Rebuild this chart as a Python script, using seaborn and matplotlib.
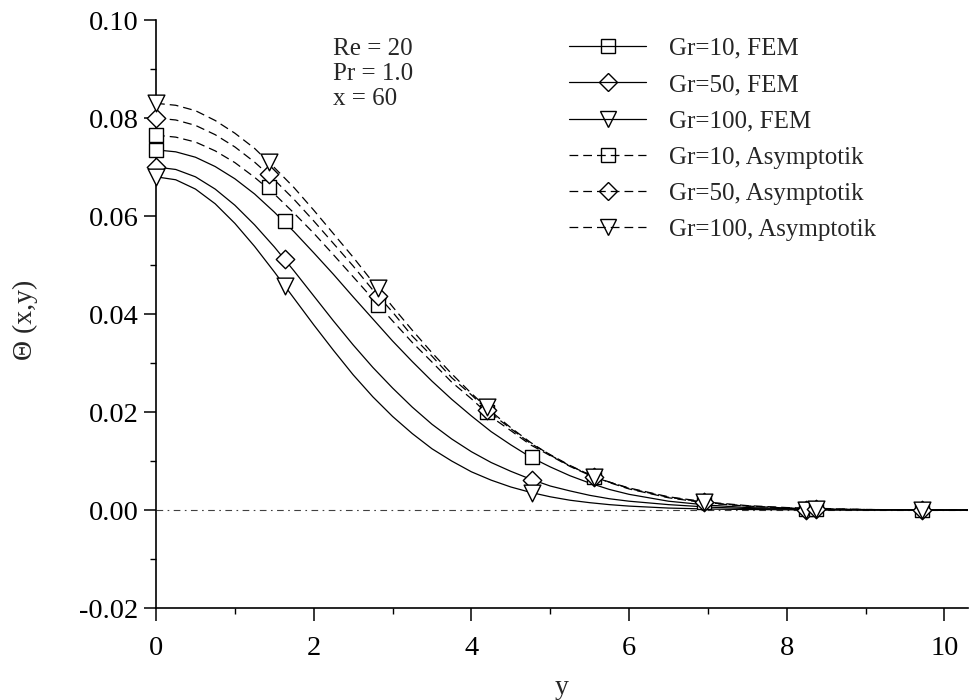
import matplotlib
matplotlib.use("Agg")
import matplotlib.pyplot as plt
from matplotlib.lines import Line2D
import seaborn as sns
import numpy as np

# ---- data ----
y_grid = [0.0, 0.25, 0.5, 0.75, 1.0, 1.25, 1.5, 1.75, 2.0, 2.25, 2.5, 2.75,
          3.0, 3.25, 3.5, 3.75, 4.0, 4.25, 4.5, 4.75, 5.0, 5.25, 5.5, 5.75,
          6.0, 6.5, 7.0, 7.5, 8.0, 8.5, 9.0, 9.5, 10.0, 10.3]

fem_gr10 = [0.0735, 0.0731, 0.0720, 0.0701, 0.0676, 0.0645, 0.0608, 0.0568,
            0.0525, 0.0481, 0.0435, 0.0390, 0.0345, 0.0303, 0.0263, 0.0226,
            0.0192, 0.0160, 0.0133, 0.0108, 0.0088, 0.0070, 0.0055, 0.0042,
            0.0032, 0.0018, 0.0010, 0.0005, 0.0003, 0.0001, 0.00005, 0.00002,
            0.0, 0.0]
fem_gr50 = [0.0700, 0.0695, 0.0680, 0.0655, 0.0622, 0.0582, 0.0537, 0.0488,
            0.0437, 0.0386, 0.0337, 0.0291, 0.0249, 0.0210, 0.0175, 0.0145,
            0.0119, 0.0097, 0.0079, 0.0063, 0.0049, 0.0039, 0.0030, 0.0023,
            0.0018, 0.0011, 0.0006, 0.0003, 0.0002, 0.0001, 0.00005, 0.00002,
            0.0, 0.0]
fem_gr100 = [0.0680, 0.0674, 0.0655, 0.0625, 0.0585, 0.0538, 0.0486, 0.0432,
             0.0378, 0.0326, 0.0276, 0.0231, 0.0191, 0.0156, 0.0125, 0.0100,
             0.0078, 0.0061, 0.0047, 0.0036, 0.0027, 0.0020, 0.0015, 0.0011,
             0.0008, 0.0004, 0.0002, 0.0001, 0.00005, 0.0, 0.0, 0.0,
             0.0, 0.0]
asy_gr10 = [0.0765, 0.0761, 0.0751, 0.0733, 0.0709, 0.0679, 0.0645, 0.0606,
            0.0565, 0.0521, 0.0476, 0.0431, 0.0386, 0.0342, 0.0302, 0.0261,
            0.0227, 0.0190, 0.0162, 0.0133, 0.0111, 0.0089, 0.0071, 0.0057,
            0.0045, 0.0027, 0.0016, 0.0009, 0.0005, 0.0003, 0.0001, 0.00005,
            0.0, 0.0]
asy_gr50 = [0.0800, 0.0796, 0.0785, 0.0766, 0.0741, 0.0710, 0.0674, 0.0634,
            0.0590, 0.0544, 0.0498, 0.0449, 0.0404, 0.0355, 0.0314, 0.0270,
            0.0235, 0.0197, 0.0166, 0.0136, 0.0113, 0.0091, 0.0072, 0.0057,
            0.0044, 0.0026, 0.0015, 0.0008, 0.0004, 0.0002, 0.0001, 0.00004,
            0.0, 0.0]
asy_gr100 = [0.0830, 0.0826, 0.0815, 0.0795, 0.0769, 0.0738, 0.0699, 0.0658,
             0.0612, 0.0564, 0.0516, 0.0465, 0.0415, 0.0367, 0.0321, 0.0278,
             0.0238, 0.0201, 0.0168, 0.0138, 0.0112, 0.0090, 0.0072, 0.0056,
             0.0043, 0.0025, 0.0014, 0.0008, 0.0004, 0.0002, 0.0001, 0.00004,
             0.0, 0.0]

# marker positions
fem_mark_y = [0.0, 1.63, 4.77, 8.24]
fem_mark_gr10 = [0.0735, 0.0589, 0.0108, 0.0002]
fem_mark_gr50 = [0.0700, 0.0512, 0.0061, 0.0001]
fem_mark_gr100 = [0.0680, 0.0457, 0.0035, 0.0000]

asy_mark_y = [0.0, 1.43, 2.81, 4.20, 5.56, 6.95, 8.37, 9.72]
asy_mark_gr10 = [0.0765, 0.0659, 0.0419, 0.0200, 0.0067, 0.0017, 0.0003, 0.0001]
asy_mark_gr50 = [0.0800, 0.0685, 0.0437, 0.0205, 0.0068, 0.0017, 0.0003, 0.0001]
asy_mark_gr100 = [0.0830, 0.0711, 0.0453, 0.0210, 0.0068, 0.0017, 0.0003, 0.0001]

labels = ["Gr=10, FEM", "Gr=50, FEM", "Gr=100, FEM",
          "Gr=10, Asymptotik", "Gr=50, Asymptotik", "Gr=100, Asymptotik"]

x_ticks = [0, 2, 4, 6, 8, 10]
y_ticks = [-0.02, 0.00, 0.02, 0.04, 0.06, 0.08, 0.10]

# ---- style ----
sns.set_theme(style="ticks")
plt.rcParams['font.family'] = ['Liberation Serif', 'DejaVu Serif']

fig = plt.figure(figsize=(9.71, 7.0), dpi=100)
ax = fig.add_axes([0.1607, 0.1314, 0.8363, 0.8400])

solid = '-'
dashed = (0, (7, 4))
lw = 0.9

curves = [
    (fem_gr10, solid), (fem_gr50, solid), (fem_gr100, solid),
    (asy_gr10, dashed), (asy_gr50, dashed), (asy_gr100, dashed),
]
for vals, ls in curves:
    sns.lineplot(x=y_grid, y=vals, ax=ax, color='black', linewidth=lw,
                 linestyle=ls, errorbar=None, sort=False, legend=False)

# zero reference line
ax.axhline(0.0, color='0.25', linewidth=0.8, linestyle=(0, (6, 4, 1.5, 4)), zorder=1)

mk = {'s': 110, 'D': 88, 'v': 145}
marks = [
    (fem_mark_y, fem_mark_gr10, 's'), (fem_mark_y, fem_mark_gr50, 'D'),
    (fem_mark_y, fem_mark_gr100, 'v'),
    (asy_mark_y, asy_mark_gr10, 's'), (asy_mark_y, asy_mark_gr50, 'D'),
    (asy_mark_y, asy_mark_gr100, 'v'),
]
for xs, ys, m in marks:
    sns.scatterplot(x=xs, y=ys, ax=ax, marker=m, s=mk[m], facecolors='white',
                    edgecolors='black', linewidth=1.0, zorder=3, legend=False,
                    clip_on=False)

ax.set_xlim(0, 10.3)
ax.set_ylim(-0.02, 0.10)
ax.set_xticks(x_ticks)
ax.set_xticklabels([str(t) for t in x_ticks])
ax.set_yticks(y_ticks)
ax.set_yticklabels([f"{t:.2f}" for t in y_ticks])
ax.set_xticks(np.arange(1, 10.3, 2), minor=True)
ax.set_yticks(np.arange(-0.01, 0.10, 0.02), minor=True)

for s in ['top', 'right']:
    ax.spines[s].set_visible(False)
for s in ['left', 'bottom']:
    ax.spines[s].set_linewidth(1.2)
    ax.spines[s].set_color('black')

ax.tick_params(axis='both', which='major', direction='out', length=9, width=1.1,
               labelsize=20.5, colors='black')
ax.tick_params(axis='x', which='major', pad=11)
ax.tick_params(axis='y', which='major', pad=3.5)
ax.tick_params(axis='both', which='minor', direction='out', length=4.5, width=1.0,
               colors='black')

ax.set_xlabel("y", fontsize=20, labelpad=10)
ax.set_ylabel("Θ (x,y)", fontsize=20)
ax.yaxis.set_label_coords(-0.145, 0.49)

ax.text(0.218, 0.970, "Re = 20\nPr = 1.0\nx = 60", transform=ax.transAxes,
        fontsize=18, va='top', ha='left', linespacing=1.18)

handles = []
for (vals, ls), (_, _, m) in zip(curves, marks):
    handles.append(Line2D([0], [0], color='black', linewidth=lw, linestyle=ls,
                          marker=m, markersize=np.sqrt(mk[m]),
                          markerfacecolor='none', markeredgecolor='black',
                          markeredgewidth=1.0))
leg = ax.legend(handles, labels, loc='upper left', bbox_to_anchor=(0.49, 0.996),
                frameon=False, fontsize=18, handlelength=3.1, handletextpad=0.9,
                labelspacing=0.55, borderaxespad=0.2)

fig.savefig("out.png", dpi=100)
